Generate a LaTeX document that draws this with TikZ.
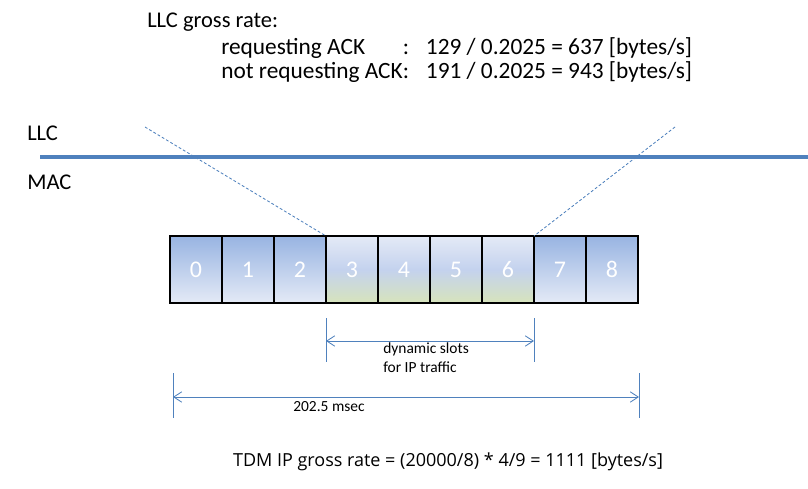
\documentclass[tikz,border=0pt]{standalone}
\usepackage{fontspec}
\setmainfont{Carlito}
\newfontfamily\tdmfont{Open Sans}
\usetikzlibrary{calc}
\usetikzlibrary{arrows.meta}
\definecolor{llcblue}{HTML}{4F81BD}
\definecolor{slottop}{HTML}{98B4E2}
\definecolor{slotbot}{HTML}{E4EAF6}
\definecolor{dyntop}{HTML}{E4EAF6}
\definecolor{dynmid}{HTML}{C4D2EE}
\definecolor{dynbot}{HTML}{D7E4BC}
\tikzstyle{slot} = [rectangle, minimum width=1.3cm, minimum height=1.675cm, inner sep=0pt, outer sep=0pt,
draw=black, line width=0.8pt, text=white, font=\fontsize{17}{20}\selectfont, top color=slottop, bottom color=slotbot]
\tikzstyle{dynslot} = [slot, top color=dyntop, bottom color=dynbot, middle color=dynmid]
\tikzstyle{layer} = [llcblue, line width=2.2pt]
\tikzstyle{proj} = [llcblue, line width=0.6pt, dash pattern=on 2pt off 1.5pt]
\tikzstyle{dimline} = [llcblue, line width=0.6pt]
\tikzstyle{dimarrow} = [llcblue, line width=0.6pt, {Straight Barb[length=2mm,width=2.6mm]}-{Straight Barb[length=2mm,width=2.6mm]}]
\tikzstyle{txt} = [anchor=west, inner sep=0pt, font=\fontsize{16}{16.3}\selectfont]
\tikzstyle{small} = [anchor=west, inner sep=0pt, align=left, font=\fontsize{11}{13.5}\selectfont]

\begin{document}
\begin{tikzpicture}
\useasboundingbox (0,0) rectangle (20.2,12.2);
% gross rate at LLC
\node[txt] (title) at (3.675,11.65) {LLC gross rate:};
\node[txt, font=\fontsize{16.6}{16.3}\selectfont] (rates) at (5.525,10.66) {\begin{tabular}{@{}l@{\hspace{12pt}}l@{}}
requesting ACK\hfill: & 129 / 0.2025 = 637 [bytes/s]\\
not requesting ACK: & 191 / 0.2025 = 943 [bytes/s]
\end{tabular}};
% layers
\node[txt] (llc) at (0.675,8.875) {LLC};
\node[txt] (mac) at (0.675,7.65) {MAC};
\coordinate (layerL) at (1.0,8.275);
\coordinate (layerR) at (20.2,8.275);
\draw[layer] (layerL) -- (layerR);
% slots
\node (c0) at (4.9,5.4625) [slot] {0};
\node (c1) at (6.2,5.4625) [slot] {1};
\node (c2) at (7.5,5.4625) [slot] {2};
\node (c3) at (8.8,5.4625) [dynslot] {3};
\node (c4) at (10.1,5.4625) [dynslot] {4};
\node (c5) at (11.4,5.4625) [dynslot] {5};
\node (c6) at (12.7,5.4625) [dynslot] {6};
\node (c7) at (14.0,5.4625) [slot] {7};
\node (c8) at (15.3,5.4625) [slot] {8};
\coordinate (projL) at (3.625,9.025);
\coordinate (projR) at (16.875,9.025);
\draw[proj] (projL) -- (c3.north west);
\draw[proj] (projR) -- (c6.north east);
% dynamic slots
\coordinate (dynL) at ($(c3.south west)+(0,-0.95)$);
\coordinate (dynR) at ($(c6.south east)+(0,-0.95)$);
\draw[dimline] ($(dynL)+(0,0.575)$) -- ($(dynL)+(0,-0.525)$);
\draw[dimline] ($(dynR)+(0,0.575)$) -- ($(dynR)+(0,-0.525)$);
\draw[dimarrow] (dynL) -- (dynR);
\node[small] (dyn) at (9.575,3.26) {dynamic slots\\for IP traffic};
% whole frame
\coordinate (spanL) at (4.325,2.275);
\coordinate (spanR) at (15.975,2.275);
\draw[dimline] ($(spanL)+(0,0.6)$) -- ($(spanL)+(0,-0.525)$);
\draw[dimline] ($(spanR)+(0,0.6)$) -- ($(spanR)+(0,-0.525)$);
\draw[dimarrow] (spanL) -- (spanR);
\node[small] (span) at (7.325,2.025) {202.5 msec};
% TDM rate
\node[inner sep=0pt, font=\tdmfont\fontsize{12.8}{15}\selectfont] (tdm) at (11.2,0.65) {TDM IP gross rate = (20000/8) * 4/9 = 1111 [bytes/s]};
\end{tikzpicture}
\end{document}
